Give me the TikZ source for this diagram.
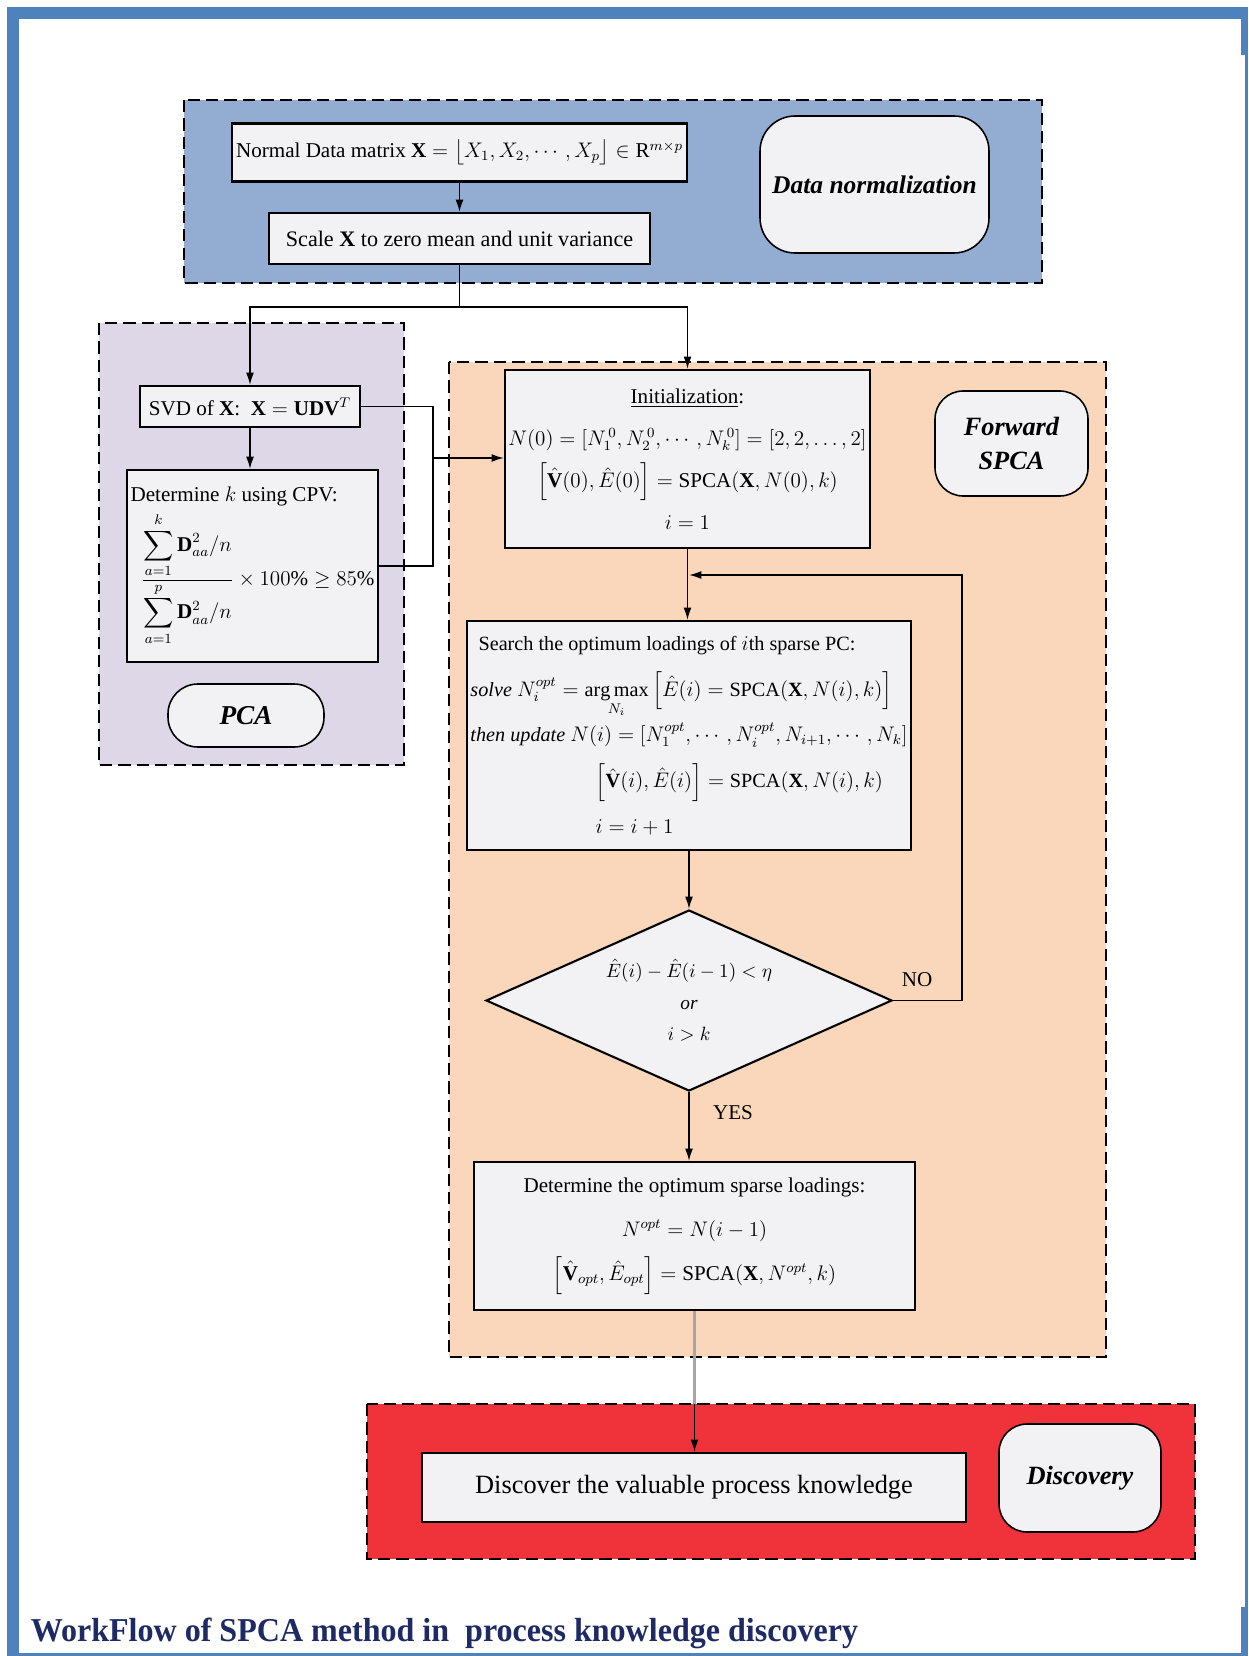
\documentclass[tikz,border=0pt]{standalone}
\usepackage{amsmath}
\usepackage{fontspec}
\setmainfont{Liberation Serif}
\usetikzlibrary{arrows.meta, shapes.geometric, calc}

% Colours of the frame, the four stages and the boxes.
\definecolor{framecol}{RGB}{79,129,189}
\definecolor{normcol}{RGB}{146,172,210}
\definecolor{pcacol}{RGB}{221,215,232}
\definecolor{spcacol}{RGB}{250,215,186}
\definecolor{disccol}{RGB}{240,50,58}
\definecolor{boxcol}{RGB}{242,242,245}
\definecolor{titlecol}{RGB}{30,42,100}

% One picture unit (one pixel of the page).
\newcommand{\pu}{0.02cm}

\begin{document}
\begin{tikzpicture}[%
        x = 0.02cm,
        y = -0.02cm,
        > = {Latex[length=7pt, width=4.5pt]},
        line width = 0.9pt,
        stage/.style = {dash pattern = on 7pt off 3.5pt, line width = 0.8pt},
        procbox/.style = {%
            draw,
            line width = 1.2pt,
            fill = boxcol,
            inner sep = 2pt,
            align = center,
            font = \fontsize{12}{16}\selectfont
        },
        tagbox/.style = {%
            draw,
            line width = 0.9pt,
            fill = boxcol,
            rounded corners = 16pt,
            align = center,
            font = \fontsize{14.5}{19}\selectfont\bfseries\itshape
        }
    ]

        % Page and frame.
        \useasboundingbox (0,0) rectangle (1248,1656);
        \fill[white] (0,0) rectangle (1248,1656);
        \begin{scope}[framecol]
            \fill (7,7) rectangle (1248,19);
            \fill (7,7) rectangle (19,1656);
            \fill (1241,19) rectangle (1248,55);
            \fill (1244.5,55) rectangle (1248,1607);
            \fill (1241,1607) rectangle (1248,1656);
            \fill (7,1653) rectangle (1248,1656);
        \end{scope}

        % Stages.
        \draw[stage, fill = normcol] (184,100) rectangle (1042,283);
        \draw[stage, fill = pcacol] (99,323) rectangle (404,765);
        \draw[stage, fill = spcacol] (449,362) rectangle (1106,1357);
        \draw[stage, fill = disccol] (367,1404) rectangle (1195,1559);

        % Data normalization.
        \node[procbox, minimum width = 455*\pu, minimum height = 58*\pu]
            (ndata) at (459.5,152.5)
            {Normal Data matrix $\mathbf{X}=\big\lfloor X_1,X_2,\cdots,X_p\big\rfloor\in\mathrm{R}^{m\times p}$};
        \node[procbox, font = \fontsize{12.6}{16}\selectfont,
              minimum width = 381*\pu, minimum height = 51*\pu]
            (scale) at (459.5,238.5)
            {Scale $\mathbf{X}$ to zero mean and unit variance};
        \node[tagbox, rounded corners = 20pt, minimum width = 229*\pu, minimum height = 137*\pu]
            (tnorm) at (874.5,184.5) {Data normalization};

        % PCA.
        \node[procbox, minimum width = 220*\pu, minimum height = 41*\pu]
            (svd) at (250,406.5)
            {SVD of $\mathbf{X}$:\ \ $\mathbf{X}=\mathbf{UDV}^T$};
        \node[procbox, align = left, anchor = north west,
              minimum width = 251*\pu, minimum height = 192*\pu]
            (cpv) at (126,469)
            {Determine $k$ using CPV:\\[3pt]
             \hspace*{0.5em}$\displaystyle\frac{\displaystyle\sum_{a=1}^{k}\mathbf{D}_{aa}^2/n}{\displaystyle\sum_{a=1}^{p}\mathbf{D}_{aa}^2/n}\times100\%\geq85\%$};
        \node[tagbox, rounded corners = 17pt, font = \fontsize{15.5}{19}\selectfont\bfseries\itshape,
              minimum width = 156*\pu, minimum height = 63*\pu]
            (tpca) at (246,715.5) {PCA};

        % Forward SPCA.
        \node[procbox, font = \fontsize{12}{24}\selectfont,
              minimum width = 343*\pu, minimum height = 178*\pu]
            (init) at (687.5,459)
            {\underline{Initialization}:\\
             $N(0)=[N_1^{\,0},N_2^{\,0},\cdots,N_k^{\,0}]=[2,2,\ldots,2]$\\
             $\Big[\hat{\mathbf{V}}(0),\hat{E}(0)\Big]=\mathrm{SPCA}(\mathbf{X},N(0),k)$\\
             $i=1$};
        \node[tagbox, font = \fontsize{15}{19}\selectfont\bfseries\itshape,
              minimum width = 153*\pu, minimum height = 105*\pu]
            (tspca) at (1011.5,443.5) {Forward\\SPCA};
        \node[procbox, align = left, font = \fontsize{11.5}{26}\selectfont,
              minimum width = 438*\pu, minimum height = 229*\pu]
            (search) at (689,735.5)
            {\hspace*{0.4em}Search the optimum loadings of $i$th sparse PC:\\
             \textit{solve} $N_i^{opt}=\mathop{\mathrm{arg\,max}}\limits_{N_i}\Big[\hat{E}(i)=\mathrm{SPCA}(\mathbf{X},N(i),k)\Big]$\\
             \textit{then update} $N(i)=[N_1^{opt},\cdots,N_i^{opt},N_{i+1},\cdots,N_k]$\\
             \hspace*{6.2em}$\Big[\hat{\mathbf{V}}(i),\hat{E}(i)\Big]=\mathrm{SPCA}(\mathbf{X},N(i),k)$\\
             \hspace*{6.2em}$i=i+1$};
        \node[procbox, shape = diamond, aspect = 2.2, inner sep = 0pt,
              font = \fontsize{11}{18}\selectfont,
              minimum width = 406*\pu, minimum height = 181*\pu]
            (dec) at (689,1000.5)
            {$\hat{E}(i)-\hat{E}(i-1)<\eta$\\ \textit{or}\\ $i>k$};
        \node[procbox, font = \fontsize{12}{25}\selectfont,
              minimum width = 441*\pu, minimum height = 148*\pu]
            (opt) at (694.5,1236)
            {Determine the optimum sparse loadings:\\
             $N^{opt}=N(i-1)$\\
             $\Big[\hat{\mathbf{V}}_{opt},\hat{E}_{opt}\Big]=\mathrm{SPCA}(\mathbf{X},N^{opt},k)$};
        \node[font = \fontsize{12}{14}\selectfont] (no) at (917,980) {NO};
        \node[font = \fontsize{12}{14}\selectfont] (yes) at (733,1113) {YES};

        % Discovery.
        \node[procbox, font = \fontsize{15}{18}\selectfont,
              minimum width = 544*\pu, minimum height = 69*\pu]
            (disc) at (694,1487.5) {Discover the valuable process knowledge};
        \node[tagbox, font = \fontsize{15}{19}\selectfont\bfseries\itshape,
              minimum width = 162*\pu, minimum height = 108*\pu]
            (tdisc) at (1080,1478) {Discovery};

        % Title.
        \node[anchor = base west, text = titlecol, inner sep = 0pt,
              font = \fontsize{19}{22}\selectfont\bfseries]
            (title) at (30,1641)
            {\scalebox{0.96}[1]{WorkFlow of SPCA method in \ process knowledge discovery}};

        % Connectors.
        \coordinate (split) at (459.5,307);
        \coordinate (jn) at (433,458);
        \coordinate (loop) at (962,575);
        \coordinate (redtop) at (694.5,1404);

        \draw[->] (ndata) -- (scale);
        \draw (scale.south) -- (split);
        \draw[->] (split) -| (svd.north);
        \draw[->] (split) -| (init.north);
        \draw[->] (svd.south) -- (svd.south |- cpv.north);
        \draw (svd.east) -| (jn) |- (cpv.east);
        \draw[->] (jn) -- (jn -| init.west);
        \draw[->] (init.south) -- (init.south |- search.north);
        \draw[->] (search.south) -- (search.south |- dec.north);
        \draw[->] (dec.east) -| (loop) -- (loop -| search.north);
        \draw[->] (dec.south) -- (dec.south |- opt.north);
        \draw[gray!70, line width = 1.2pt] (opt.south) -- (redtop);
        \draw[->] (redtop) -- (redtop |- disc.north);
    \end{tikzpicture}
\end{document}
